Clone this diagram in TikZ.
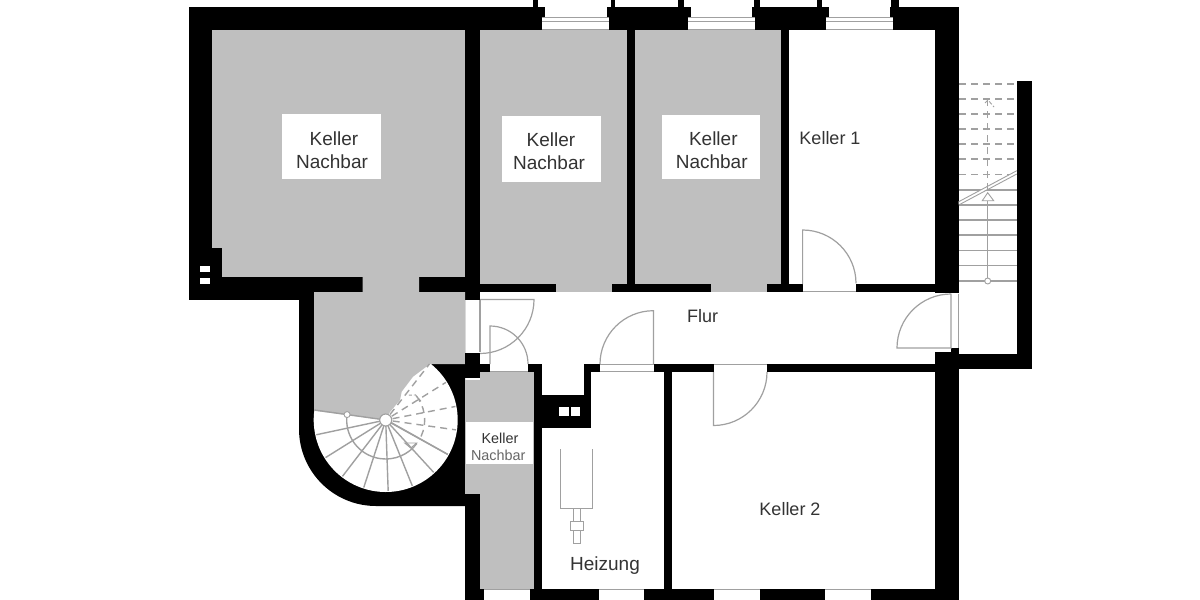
\documentclass[tikz,border=0pt]{standalone}
\usepackage{fontspec}
\setmainfont{Liberation Sans}
\definecolor{roomgrey}{HTML}{BFBFBF}
\definecolor{thin}{HTML}{A0A0A0}
\definecolor{labeltext}{HTML}{333333}
\tikzset{
  x=1pt,y=-1pt,
  wall/.style={fill=black},
  room/.style={fill=roomgrey},
  clear/.style={fill=white},
  thinline/.style={draw=thin,line width=0.9pt},
  stairline/.style={draw=thin,line width=1.4pt},
  dashline/.style={draw=thin,line width=1.4pt,dash pattern=on 7pt off 5pt},
  doorline/.style={draw=thin,line width=1.2pt},
  big/.style={font=\fontsize{19}{22}\selectfont,text=labeltext,anchor=base,inner sep=0pt},
  small/.style={font=\fontsize{14.4}{17}\selectfont,text=labeltext,anchor=base,inner sep=0pt},
  smallgrey/.style={font=\fontsize{14.4}{17}\selectfont,text=black!60,anchor=base,inner sep=0pt},
}
\begin{document}
\begin{tikzpicture}
\useasboundingbox[fill=white] (0,0) rectangle (1200,600);
% grey rooms
\fill[room] (212,30) rectangle (465,278);
\fill[room] (480,30) rectangle (627,292);
\fill[room] (635,30) rectangle (781,292);
% walls: top, left
\fill[wall] (188.5,7) rectangle (958.7,30);
\fill[wall] (188.5,7) rectangle (212,300);
\fill[wall] (188.5,277) rectangle (362.7,292);
\fill[wall] (188.5,290) rectangle (314,300);
\fill[wall] (212,248) rectangle (222,277);
\fill[wall] (419,277) rectangle (465,292);
\fill[wall] (465,30) rectangle (480,300);
\fill[wall] (627,30) rectangle (635,292);
\fill[wall] (781,30) rectangle (789,292);
\fill[wall] (480,284) rectangle (556,292);
\fill[wall] (612,284) rectangle (711,292);
\fill[wall] (767,284) rectangle (802.6,292);
\fill[wall] (856,284) rectangle (958.7,292);
% top piers
\foreach \a/\b in {533/537.5,610.7/615,678/684,754/760,816.7/822,890.7/899}
  \fill[wall] (\a,0) rectangle (\b,8);
% top windows
\foreach \a/\b/\c/\d in {545/606.7/541.7/609.3,690.7/751.7/687.7/755,828.7/890/825.7/893}{
  \fill[clear] (\a,7) rectangle (\b,17);
  \fill[clear] (\c,17) rectangle (\d,30);
  \draw[thinline] (\c,17) -- (\d,17) (\c,21.7) -- (\d,21.7) (\c,29.5) -- (\d,29.5);
}
% right wall and outer stair
\fill[wall] (935,7) rectangle (958.7,293);
\fill[wall] (951,348) rectangle (958.7,352);
\fill[wall] (935,351.7) rectangle (958.7,600);
\fill[wall] (958.7,354) rectangle (1032,369.3);
\fill[wall] (1017,80.7) rectangle (1032,369.3);
% round stair block
\fill[wall] (299,292) -- (299,429) arc (180:90:77) -- (465,506) -- (465,292) -- cycle;
\coordinate (hubc) at (385.7,420);
\begin{scope}[shift={(hubc)}]
  \fill[clear] (0,0) -- (-90:72) arc (-90:188:72) -- cycle;
\end{scope}
\fill[room] (362.7,277) -- (419,277) -- (419,292) -- (465,292) -- (465,364) -- (430,364)
  -- (413,376.7) -- (401.7,391.7) -- (400,400) -- (390,412) -- (385.7,420) -- (314,410.7)
  -- (314,292) -- (362.7,292) -- cycle;
% small grey room
\fill[room] (480,372) -- (534,372) -- (534,589) -- (480,589) -- (480,494) -- (465,494)
  -- (465,380) -- (480,380) -- cycle;
\fill[wall] (465,353) rectangle (480,378);
\fill[wall] (480,364) rectangle (490,372);
\fill[wall] (465,494) rectangle (480,600);
% inner walls
\fill[wall] (528,364) rectangle (542,372);
\fill[wall] (534,364) rectangle (542,589);
\fill[wall] (542,395) rectangle (591,428);
\fill[wall] (583.7,364) rectangle (591,428);
\fill[wall] (583.7,364) rectangle (600,372);
\fill[wall] (653.5,364) rectangle (713.5,372);
\fill[wall] (767,364) rectangle (935,372);
\fill[wall] (664,364) rectangle (672,589);
% bottom wall pieces
\foreach \a/\b in {465/484.3,530/599.3,644/714,760/825,871/958.7}
  \fill[wall] (\a,589) rectangle (\b,600);
\foreach \a/\b in {484.3/530,599.3/644,714/760,825/871}
  \draw[thinline] (\a,589.3) -- (\b,589.3);
% ventilation openings
\fill[clear] (200,266) rectangle (210,272);
\fill[clear] (200,278) rectangle (210,284);
\fill[clear] (559.2,406.7) rectangle (568.5,416);
\fill[clear] (571,406.7) rectangle (580,416);
% doors
\draw[doorline] (480,299.5) -- (480,352);
\draw[doorline] (480,299.5) -- (534,299.5) arc (0:90:54);
\draw[doorline] (490,364) -- (490,326) arc (-90:0:38) -- (528,364);
\draw[thinline] (490,371.7) -- (528,371.7);
\draw[doorline] (802.6,284) -- (802.6,230) arc (-90:0:53.4);
\draw[thinline] (802.6,291.7) -- (856,291.7);
\draw[doorline] (653.5,364) -- (653.5,310.7) arc (-90:-180:53.5);
\draw[thinline] (600,371.7) -- (653.5,371.7) (600,364.3) -- (653.5,364.3);
\draw[doorline] (713.5,372) -- (713.5,425.5) arc (90:0:53.5);
\draw[thinline] (713.5,364.3) -- (767,364.3);
\draw[doorline] (951,293.5) -- (951,348) -- (897,348) arc (180:270:54);
\draw[thinline] (958,293.5) -- (958,348);
% straight stair
\foreach \y in {84,99,114,129,144,159,174.7}
  \draw[dashline] (959,\y) -- (1017,\y);
\foreach \y in {190,205,220,235,250.5,265.5,281}
  \draw[stairline] (959,\y) -- (1017,\y);
\fill[clear] (958.7,204) -- (958.7,201.7) -- (1016.8,170.7) -- (1016.8,174) -- cycle;
\draw[thinline] (958.7,201.7) -- (1016.8,170.7) (958.7,205) -- (1016.8,174);
\draw[stairline] (987.7,281) -- (987.7,200.7);
\draw[dashline] (987.7,190) -- (987.7,101);
\draw[thinline,fill=white] (987.7,192.7) -- (982.3,200.7) -- (993.7,200.7) -- cycle;
\draw[thinline,fill=white] (987.7,281) circle (3);
\draw[thinline,dash pattern=on 4pt off 2pt] (985,103) -- (988,100) -- (994,107);
% spiral stair
\begin{scope}[shift={(hubc)}]
  \foreach \a in {168,148,127.5,108,88,68,47.5,29}
    \draw[stairline] (\a:6) -- (\a:71);
  \draw[stairline] (25:6) -- (29:71);
  \draw[stairline] (188:6) -- (188:72);
  \foreach \a in {8,-11,-32,-52}
    \draw[dashline] (\a:7) -- (\a:71);
  \draw[stairline] (188:39) arc (188:37:39);
  \draw[dashline] (25:39) arc (25:-42:39);
  \draw[thinline,dash pattern=on 4pt off 2pt] (-28:40) -- (-40:39) -- (-47:34);
  \draw[thinline] (25,28) -- (19,23) -- (31,23) -- cycle;
  \draw[thinline,fill=white] (188:39) circle (3);
\end{scope}
\node[circle,draw=thin,line width=1.1pt,fill=white,minimum size=12pt,inner sep=0pt] (hub) at (hubc) {};
% boiler
\draw[thinline] (560.3,449.3) -- (560.3,508.3) -- (592.3,508.3) -- (592.3,449.3);
\draw[thinline] (573,508.3) -- (573,521.7) (580.6,508.3) -- (580.6,521.7);
\draw[thinline] (570,521.7) rectangle (583.3,530);
\draw[thinline] (573,530) -- (573,543.3) -- (580,543.3) -- (580,530);
% label plates
\fill[clear] (282.3,114.3) rectangle (381,179.3);
\fill[clear] (501.7,115.7) rectangle (600.7,181.7);
\fill[clear] (662,114.7) rectangle (760,179);
\fill[clear] (466,422.3) rectangle (533.3,464);
% labels
\node[big] (k1a) at (334,145.8) {Keller};
\node[big] (k1b) at (332,168) {Nachbar};
\node[big] (k2a) at (551,146.6) {Keller};
\node[big] (k2b) at (549,169) {Nachbar};
\node[big] (k3a) at (713.3,145.6) {Keller};
\node[big] (k3b) at (711.7,168) {Nachbar};
\node[small] (k4a) at (500,443) {Keller};
\node[smallgrey] (k4b) at (498.3,460) {Nachbar};
\node[big,font=\fontsize{18}{21}\selectfont] (keller1) at (830,144.5) {Keller 1};
\node[big,font=\fontsize{18}{21}\selectfont] (flur) at (702.5,322.5) {Flur};
\node[big,font=\fontsize{18}{21}\selectfont] (keller2) at (790,515.5) {Keller 2};
\node[big] (heizung) at (605,570) {Heizung};
\end{tikzpicture}
\end{document}
